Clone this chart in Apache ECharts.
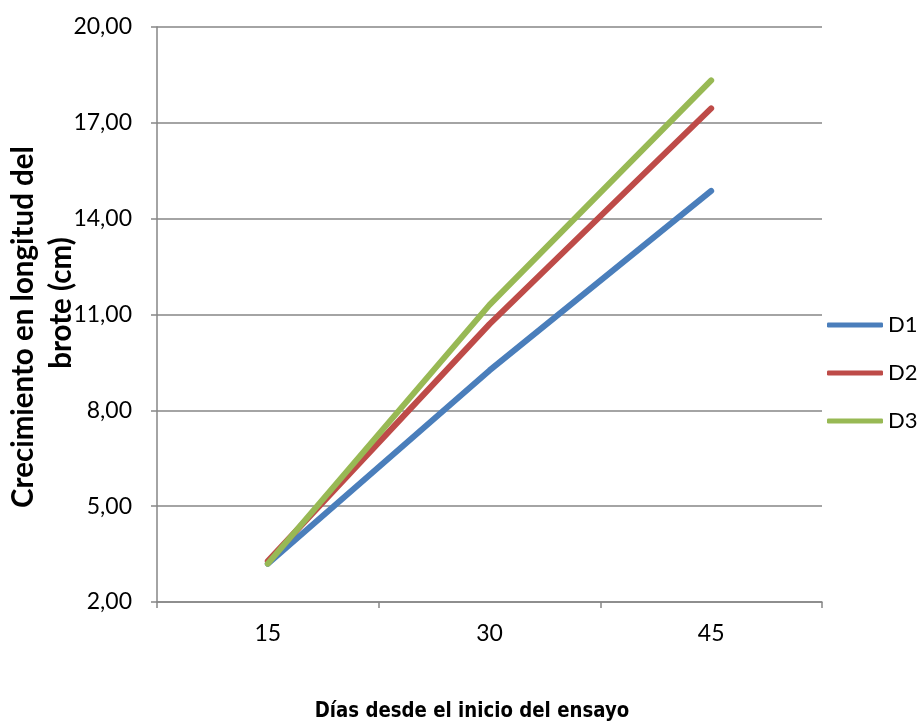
<!DOCTYPE html>
<html>
<head>
<meta charset="utf-8">
<script src="https://cdn.jsdelivr.net/npm/echarts@6/dist/echarts.min.js"></script>
<style>
  html, body { margin: 0; padding: 0; background: #fff; }
  #chart { width: 918px; height: 725px; }
</style>
</head>
<body>
<div id="chart"></div>
<script>
// Days since the start of the trial
const days = ['15', '30', '45'];
// Shoot length growth (cm) per treatment
const d1 = [3.20, 9.25, 14.87];
const d2 = [3.28, 10.70, 17.45];
const d3 = [3.20, 11.30, 18.33];
const seriesNames = ['D1', 'D2', 'D3'];
const colors = ['#4A7EBB', '#BE4B48', '#98B954'];

const yMin = 2, yMax = 20, yStep = 3;

const chart = echarts.init(document.getElementById('chart'));
const baseFont = 'Lato, "Open Sans", sans-serif';
const axisGrey = '#868686';

function lineSeries(name, data, color) {
  return {
    name: name,
    type: 'line',
    data: data,
    symbol: 'none',
    smooth: false,
    color: color,
    lineStyle: { width: 6, color: color, cap: 'round', join: 'round' },
    emphasis: { disabled: true }
  };
}

chart.setOption({
  animation: false,
  backgroundColor: '#ffffff',
  grid: { left: 157, right: 96, top: 27, bottom: 123 },
  xAxis: {
    type: 'category',
    data: days,
    boundaryGap: true,
    axisLine: { lineStyle: { color: axisGrey, width: 1.5 } },
    axisTick: { show: true, length: 6, lineStyle: { color: axisGrey, width: 1.5 } },
    axisLabel: { color: '#000', fontSize: 23, fontFamily: baseFont, margin: 20 },
    splitLine: { show: false }
  },
  yAxis: {
    type: 'value',
    min: yMin,
    max: yMax,
    interval: yStep,
    axisLine: { show: true, lineStyle: { color: axisGrey, width: 1.5 } },
    axisTick: { show: true, length: 6, lineStyle: { color: axisGrey, width: 1.5 } },
    axisLabel: {
      color: '#000', fontSize: 23, fontFamily: baseFont, margin: 25,
      formatter: v => v.toFixed(2).replace('.', ',')
    },
    splitLine: { show: true, lineStyle: { color: axisGrey, width: 1.5 } }
  },
  legend: {
    orient: 'vertical',
    left: 827,
    top: 314,
    padding: 0,
    icon: 'roundRect',
    itemWidth: 56,
    itemHeight: 5,
    itemGap: 26,
    data: seriesNames,
    textStyle: { color: '#000', fontSize: 22, lineHeight: 22, fontFamily: baseFont }
  },
  graphic: [
    {
      type: 'text',
      x: 23,
      y: 327,
      rotation: Math.PI / 2,
      style: {
        text: 'Crecimiento en longitud del',
        fill: '#000',
        font: 'bold 29.5px ' + baseFont,
        textAlign: 'center',
        textVerticalAlign: 'middle'
      }
    },
    {
      type: 'text',
      x: 61,
      y: 303,
      rotation: Math.PI / 2,
      style: {
        text: 'brote (cm)',
        fill: '#000',
        font: 'bold 29.5px ' + baseFont,
        textAlign: 'center',
        textVerticalAlign: 'middle'
      }
    },
    {
      type: 'text',
      x: 472,
      y: 711,
      scaleX: 0.845,
      style: {
        text: 'Días desde el inicio del ensayo',
        fill: '#000',
        font: 'bold 21.5px "DejaVu Sans", sans-serif',
        textAlign: 'center',
        textVerticalAlign: 'middle'
      }
    }
  ],
  series: [
    lineSeries(seriesNames[0], d1, colors[0]),
    lineSeries(seriesNames[1], d2, colors[1]),
    lineSeries(seriesNames[2], d3, colors[2])
  ]
});
</script>
</body>
</html>
